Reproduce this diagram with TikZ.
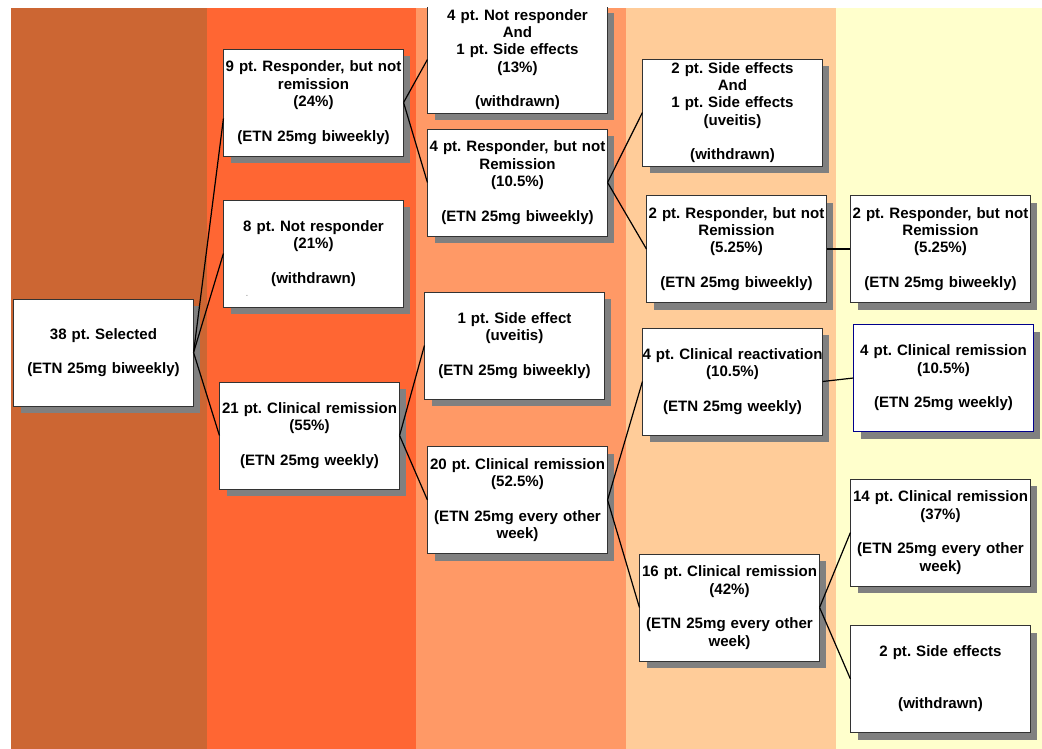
\documentclass[tikz,border=0pt]{standalone}
\usepackage{fontspec}
\setmainfont{Liberation Sans}
\usepackage{tikz}
\usetikzlibrary{shadows, positioning}
\definecolor{colA}{HTML}{CC6633}
\definecolor{colB}{HTML}{FF6633}
\definecolor{colC}{HTML}{FF9966}
\definecolor{colD}{HTML}{FFCC99}
\definecolor{colE}{HTML}{FFFFCC}
\definecolor{shadowgray}{HTML}{808080}

\tikzset{
	box/.style={draw=black!80, line width=0.6pt, fill=white, align=center,
		text width=134pt, inner xsep=0pt, inner ysep=2pt,
		minimum width=134.5pt, minimum height=80.25pt,
		font=\bfseries\fontsize{11.3}{13}\selectfont\frenchspacing,
		drop shadow={shadow xshift=5.25pt, shadow yshift=-5.25pt, opacity=1, fill=shadowgray}},
	link/.style={black, line width=0.9pt}
}

\begin{document}
\begin{tikzpicture}[x=0.75pt, y=-0.75pt]
		\useasboundingbox (0,0) rectangle (1042,749);
		\begin{scope}
		\clip (11,8) rectangle (1042,749);
		% column bands
		\foreach \xa/\xb/\col in {11/207/colA, 207/416/colB, 416/626/colC, 626/836/colD, 836/1042/colE}{
			\fill [\col] (\xa,8) rectangle (\xb,749);
		}
		
		% stage 1
		\node [box] (sel) at (103.5,352.5) {38 pt. Selected\\[\baselineskip](ETN 25mg biweekly)};
		% stage 2
		\node [box] (resp) at (313.5,102.5) {9 pt. Responder, but not\\remission\\(24\%)\\[\baselineskip](ETN 25mg biweekly)};
		\node [box] (noresp) at (313.5,253.5) {8 pt. Not responder\\(21\%)\\[\baselineskip](withdrawn)};
		\node [box] (remis) at (309.5,435.5) {21 pt. Clinical remission\\(55\%)\\[\baselineskip](ETN 25mg weekly)};
		\node [text=gray, font=\tiny] (dash) at (247,296) {-};
		% stage 3
		\node [box] (noresp2) at (517.5,59.5) {4 pt. Not responder\\And\\1 pt. Side effects\\(13\%)\\[\baselineskip](withdrawn)};
		\node [box] (resp2) at (517.5,182.5) {4 pt. Responder, but not\\Remission\\(10.5\%)\\[\baselineskip](ETN 25mg biweekly)};
		\node [box] (side) at (514.5,345.5) {1 pt. Side effect\\(uveitis)\\[\baselineskip](ETN 25mg biweekly)};
		\node [box] (remis2) at (517.5,500) {20 pt. Clinical remission\\(52.5\%)\\[\baselineskip](ETN 25mg every other\\week)};
		% stage 4
		\node [box] (side2) at (732.5,112.5) {2 pt. Side effects\\And\\1 pt. Side effects\\(uveitis)\\[\baselineskip](withdrawn)};
		\node [box] (resp3) at (736.5,249) {2 pt. Responder, but not\\Remission\\(5.25\%)\\[\baselineskip](ETN 25mg biweekly)};
		\node [box] (react) at (732.5,381.5) {\makebox[\linewidth]{4 pt. Clinical reactivation}\\(10.5\%)\\[\baselineskip](ETN 25mg weekly)};
		\node [box] (remis3) at (729.5,607.5) {16 pt. Clinical remission\\(42\%)\\[\baselineskip](ETN 25mg every other\\week)};
		% stage 5
		\node [box] (resp4) at (940.5,249) {2 pt. Responder, but not\\Remission\\(5.25\%)\\[\baselineskip](ETN 25mg biweekly)};
		\node [box, draw=blue!55!black] (remis4) at (943.5,378) {4 pt. Clinical remission\\(10.5\%)\\[\baselineskip](ETN 25mg weekly)};
		\node [box] (remis5) at (940.5,532.5) {14 pt. Clinical remission\\(37\%)\\[\baselineskip](ETN 25mg every other\\week)};
		\node [box] (side3) at (940.5,679) {2 pt. Side effects\\[2\baselineskip](withdrawn)};
		
		% connectors
		\draw [link] (sel.east) -- ([yshift=-12pt]resp.west);
		\foreach \p/\c in {sel/noresp, sel/remis, resp/noresp2, resp/resp2, remis/side, remis/remis2,
			resp2/side2, resp2/resp3, remis2/react, remis2/remis3, resp3/resp4, react/remis4,
			remis3/remis5, remis3/side3}{
			\draw [link] (\p.east) -- (\c.west);
		}
		\end{scope}
	\end{tikzpicture}
\end{document}
